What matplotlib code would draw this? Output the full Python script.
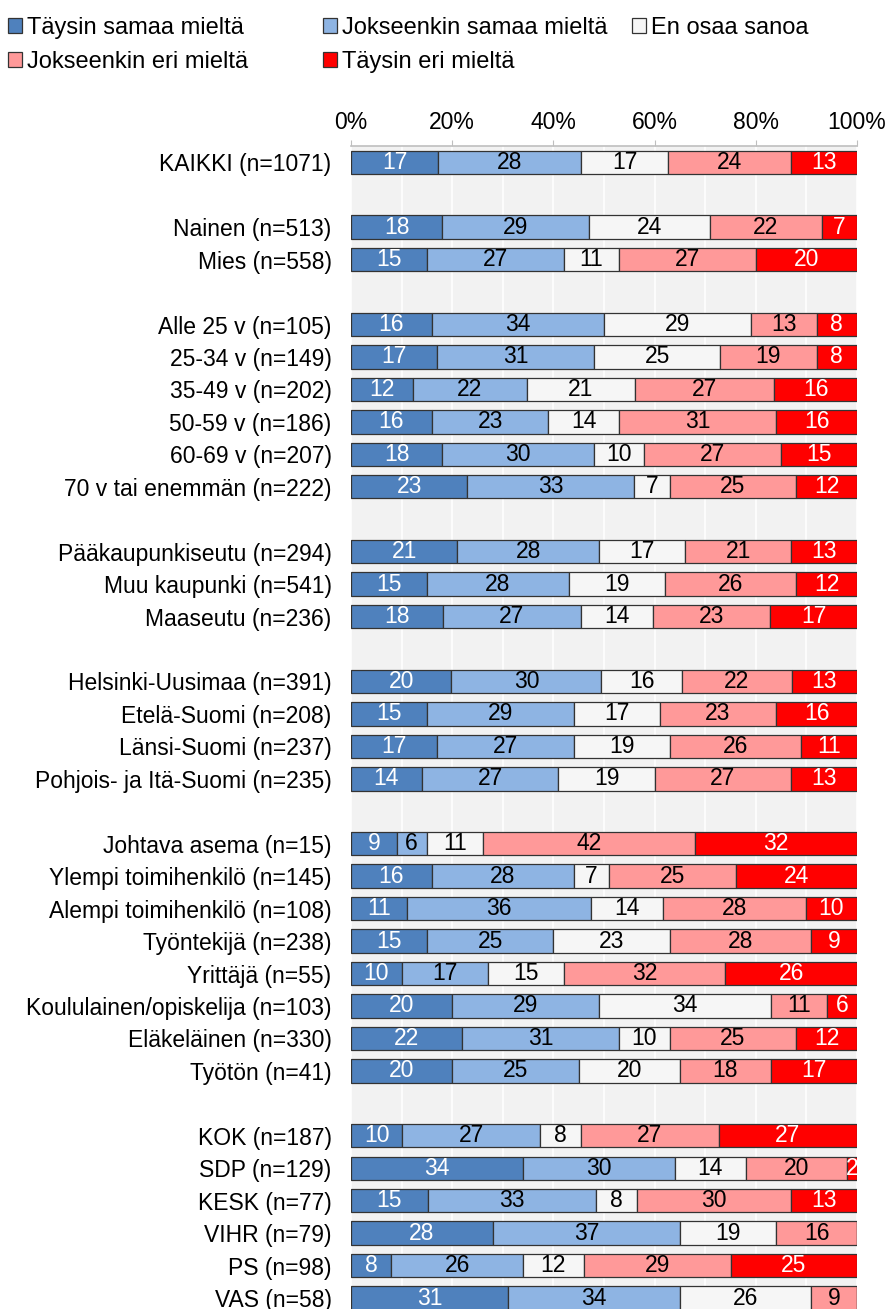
import numpy as np
import matplotlib
matplotlib.use('Agg')
import matplotlib.pyplot as plt
from matplotlib.patches import Patch
from matplotlib.ticker import MultipleLocator, PercentFormatter

plt.rcParams['font.family'] = ['Liberation Sans', 'DejaVu Sans']

categories = [
    'KAIKKI (n=1071)',
    'Nainen (n=513)', 'Mies (n=558)',
    'Alle 25 v (n=105)', '25-34 v (n=149)', '35-49 v (n=202)', '50-59 v (n=186)',
    '60-69 v (n=207)', '70 v tai enemmän (n=222)',
    'Pääkaupunkiseutu (n=294)', 'Muu kaupunki (n=541)', 'Maaseutu (n=236)',
    'Helsinki-Uusimaa (n=391)', 'Etelä-Suomi (n=208)', 'Länsi-Suomi (n=237)',
    'Pohjois- ja Itä-Suomi (n=235)',
    'Johtava asema (n=15)', 'Ylempi toimihenkilö (n=145)', 'Alempi toimihenkilö (n=108)',
    'Työntekijä (n=238)', 'Yrittäjä (n=55)', 'Koululainen/opiskelija (n=103)',
    'Eläkeläinen (n=330)', 'Työtön (n=41)',
    'KOK (n=187)', 'SDP (n=129)', 'KESK (n=77)', 'VIHR (n=79)', 'PS (n=98)', 'VAS (n=58)',
]
# rows per group, a blank row goes between groups
group_sizes = [1, 2, 6, 3, 4, 8, 6]

series_names = ['Täysin samaa mieltä', 'Jokseenkin samaa mieltä', 'En osaa sanoa',
                'Jokseenkin eri mieltä', 'Täysin eri mieltä']

taysin_samaa = [17, 18, 15, 16, 17, 12, 16, 18, 23, 21, 15, 18, 20, 15, 17, 14,
                9, 16, 11, 15, 10, 20, 22, 20, 10, 34, 15, 28, 8, 31]
jokseenkin_samaa = [28, 29, 27, 34, 31, 22, 23, 30, 33, 28, 28, 27, 30, 29, 27, 27,
                    6, 28, 36, 25, 17, 29, 31, 25, 27, 30, 33, 37, 26, 34]
en_osaa = [17, 24, 11, 29, 25, 21, 14, 10, 7, 17, 19, 14, 16, 17, 19, 19,
           11, 7, 14, 23, 15, 34, 10, 20, 8, 14, 8, 19, 12, 26]
jokseenkin_eri = [24, 22, 27, 13, 19, 27, 31, 27, 25, 21, 26, 23, 22, 23, 26, 27,
                  42, 25, 28, 28, 32, 11, 25, 18, 27, 20, 30, 16, 29, 9]
taysin_eri = [13, 7, 20, 8, 8, 16, 16, 15, 12, 13, 12, 17, 13, 16, 11, 13,
              32, 24, 10, 9, 26, 6, 12, 17, 27, 2, 13, 0, 25, 0]

colors = ['#4F81BD', '#8EB4E3', '#F6F6F6', '#FF9999', '#FF0000']
text_colors = ['white', 'black', 'black', 'black', 'white']
fs = 16.5

# row positions with gaps between groups
pos = []
row = 0
for g in group_sizes:
    for k in range(g):
        pos.append(row)
        row += 1
    row += 1
pos = np.array(pos)

values = np.array([taysin_samaa, jokseenkin_samaa, en_osaa, jokseenkin_eri, taysin_eri], dtype=float)
shares = values / values.sum(axis=0) * 100

fig = plt.figure(figsize=(8.89, 13.09), dpi=100)
ax = fig.add_axes([351 / 889, 1 - 1346.7 / 1309, 506 / 889, 1200.65 / 1309])
ax.set_facecolor('#F2F2F2')

left = np.zeros(len(categories))
for i in range(5):
    bars = ax.barh(pos, shares[i], left=left, height=0.72, color=colors[i],
                   edgecolor='#333333', linewidth=0.9, zorder=3)
    labels = ['%d' % v if v > 0 else '' for v in values[i]]
    ax.bar_label(bars, labels=labels, label_type='center', color=text_colors[i],
                 fontsize=fs, zorder=4)
    left += shares[i]

ax.set_xlim(0, 100)
ax.set_ylim(36.5, -0.5)
ax.set_yticks(pos)
ax.set_yticklabels(categories, fontsize=fs)
ax.tick_params(axis='y', length=0, pad=14)

ax.xaxis.set_major_locator(MultipleLocator(20))
ax.xaxis.set_minor_locator(MultipleLocator(10))
ax.xaxis.set_major_formatter(PercentFormatter(decimals=0))
ax.xaxis.tick_top()
ax.tick_params(axis='x', which='major', length=4.5, color='#BFBFBF', labelsize=fs, pad=4)
ax.tick_params(axis='x', which='minor', length=0)
ax.grid(axis='x', which='both', color='white', linewidth=1.2, zorder=0)
ax.set_axisbelow(True)

for s in ['left', 'right', 'bottom']:
    ax.spines[s].set_visible(False)
ax.spines['top'].set_color('#BFBFBF')
ax.spines['top'].set_linewidth(1.2)

# legend in three columns, laid out row-wise like the original
handles = [Patch(facecolor=c, edgecolor='#333333', linewidth=0.9) for c in colors]
cols = [([0, 3], 8), ([1, 4], 323), ([2], 632)]
for idx, x in cols:
    fig.legend([handles[j] for j in idx], [series_names[j] for j in idx],
               loc='upper left', bbox_to_anchor=(x / 889, 1 - 17 / 1309),
               frameon=False, fontsize=17, handlelength=0.6, handleheight=0.6,
               handletextpad=0.2, borderpad=0, borderaxespad=0, labelspacing=0.51)

fig.savefig('out.png', dpi=100)
